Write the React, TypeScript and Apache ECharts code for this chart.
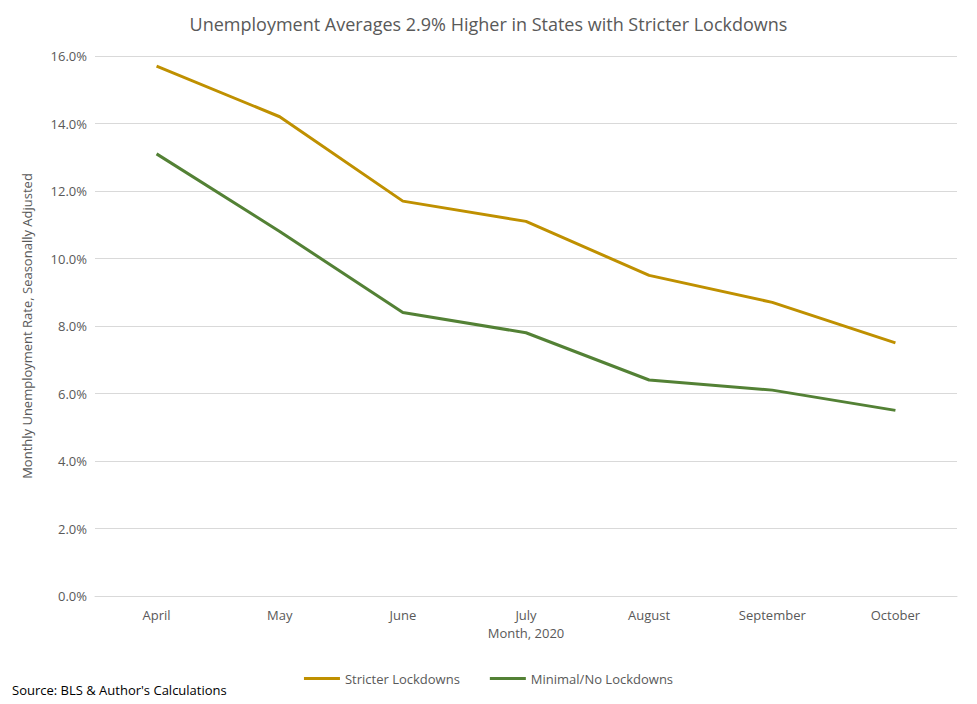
import React, { useEffect, useRef } from "react";
import * as echarts from "echarts";

const months = ["April", "May", "June", "July", "August", "September", "October"];
const stricter = [15.7, 14.2, 11.7, 11.1, 9.5, 8.7, 7.5];
const minimal = [13.1, 10.8, 8.4, 7.8, 6.4, 6.1, 5.5];

export default function App() {
  const ref = useRef<HTMLDivElement>(null);
  useEffect(() => {
    const chart = echarts.init(ref.current!, null, { renderer: "svg" });
    const font = "Open Sans, Liberation Sans, sans-serif";
    chart.setOption({
      animation: false,
      textStyle: { fontFamily: font },
      title: {
        text: "Unemployment Averages 2.9% Higher in States with Stricter Lockdowns",
        left: "center", top: 10,
        textStyle: { fontSize: 18, fontWeight: "normal", color: "#595959", fontFamily: font },
      },
      grid: { left: 95, right: 20, top: 56, bottom: 108 },
      legend: {
        bottom: 14, left: "center", itemWidth: 36, itemHeight: 3, itemGap: 30,
        icon: "rect",
        textStyle: { fontSize: 13, color: "#595959" },
        data: ["Stricter Lockdowns", "Minimal/No Lockdowns"],
      },
      xAxis: {
        type: "category", data: months, boundaryGap: true,
        name: "Month, 2020", nameLocation: "middle", nameGap: 30,
        nameTextStyle: { fontSize: 13, color: "#595959" },
        axisLine: { lineStyle: { color: "#d9d9d9" } },
        axisTick: { show: false },
        axisLabel: { fontSize: 13, color: "#595959", margin: 12 },
      },
      yAxis: {
        type: "value", min: 0, max: 16, interval: 2,
        name: "Monthly Unemployment Rate, Seasonally Adjusted",
        nameLocation: "middle", nameGap: 62,
        nameTextStyle: { fontSize: 13, color: "#595959" },
        axisLabel: { fontSize: 13, color: "#595959", formatter: (v: number) => v.toFixed(1) + "%" },
        splitLine: { lineStyle: { color: "#d9d9d9" } },
      },
      series: [
        {
          name: "Stricter Lockdowns", type: "line", data: stricter, symbol: "none",
          lineStyle: { width: 3, color: "#BF9000" }, itemStyle: { color: "#BF9000" },
          label: { show: true, position: "top", distance: 8, fontSize: 13, color: "#404040", formatter: (p: any) => p.value.toFixed(1) + "%" },
        },
        {
          name: "Minimal/No Lockdowns", type: "line", data: minimal, symbol: "none",
          lineStyle: { width: 3, color: "#538135" }, itemStyle: { color: "#538135" },
          label: { show: true, position: "bottom", distance: 10, fontSize: 13, color: "#404040", formatter: (p: any) => p.value.toFixed(1) + "%" },
        },
      ],
      graphic: [
        { type: "text", left: 12, top: 683, style: { text: "Source: BLS & Author's Calculations", fontSize: 13, fill: "#000", fontFamily: font } },
      ],
    });
    return () => chart.dispose();
  }, []);
  return <div ref={ref} style={{ position: "absolute", left: 0, top: 0, width: 977, height: 704 }} />;
}
